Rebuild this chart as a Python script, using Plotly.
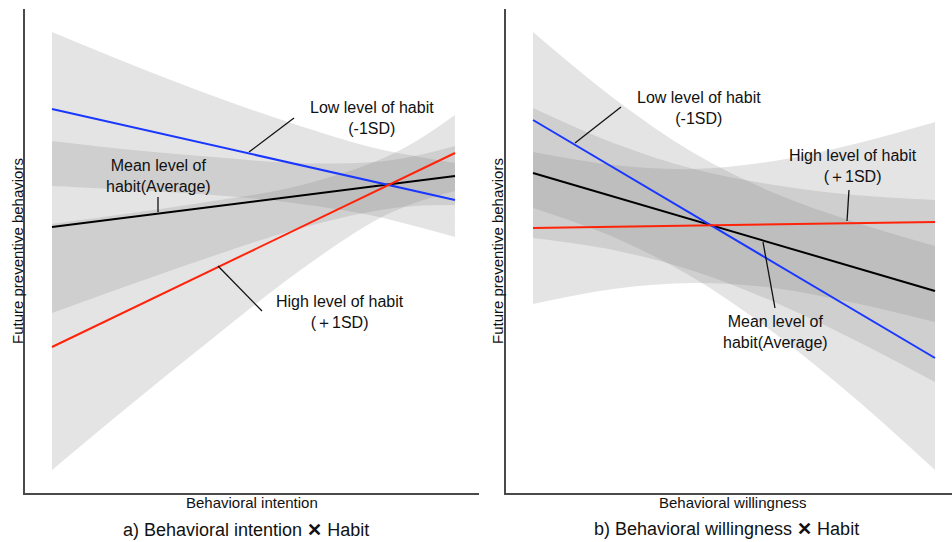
import plotly.graph_objects as go

W, H = 952, 542

# ---------------- data (panel a: Behavioral intention x Habit) ----------------
a_line_x = [0.0, 1.0]
a_low = [384, 293]      # Low level of habit (-1SD)
a_mean = [266, 317]     # Mean level of habit
a_high = [146, 340]     # High level of habit (+1SD)

a_band_x = [0.0, 0.2, 0.4, 0.6, 0.8, 0.9, 1.0]
a_low_hi = [461, 428, 397, 369, 345, 337, 330]
a_low_lo = [307, 303, 298, 290, 277, 267, 256]
a_mean_hi = [352, 343, 336, 330, 331, 337, 347]
a_mean_lo = [180, 209, 237, 263, 282, 287, 288]
a_high_hi = [269, 280, 292, 306, 331, 351, 378]
a_high_lo = [23, 90, 155, 218, 272, 290, 302]

# ---------------- data (panel b: Behavioral willingness x Habit) ----------------
b_line_x = [0.0, 1.0]
b_low = [373, 135]
b_mean = [320, 202]
b_high = [265, 271]

b_band_x = [0.0, 0.2, 0.4, 0.6, 0.8, 1.0]
b_low_hi = [461, 395, 340, 300, 271, 247]
b_low_lo = [285, 256, 215, 160, 95, 23]
b_mean_hi = [385, 350, 324, 308, 298, 293]
b_mean_lo = [255, 243, 222, 191, 153, 111]
b_high_hi = [341, 328, 324, 332, 349, 371]
b_high_lo = [189, 204, 210, 205, 190, 171]

BAND = "rgba(130,130,130,0.22)"
BLUE = "rgb(25,55,255)"
RED = "rgb(255,35,10)"
BLACK = "rgb(0,0,0)"
FONT = "Liberation Sans, Arial, sans-serif"

fig = go.Figure()


def add_band(xs, lo, hi, xa, ya):
    fig.add_trace(go.Scatter(x=xs, y=lo, mode="lines", line=dict(width=0, shape="spline"),
                             xaxis=xa, yaxis=ya, showlegend=False, hoverinfo="skip"))
    fig.add_trace(go.Scatter(x=xs, y=hi, mode="lines", line=dict(width=0, shape="spline"),
                             fill="tonexty", fillcolor=BAND,
                             xaxis=xa, yaxis=ya, showlegend=False, hoverinfo="skip"))


def add_line(xs, ys, color, xa, ya):
    fig.add_trace(go.Scatter(x=xs, y=ys, mode="lines", line=dict(color=color, width=2),
                             xaxis=xa, yaxis=ya, showlegend=False))


add_band(a_band_x, a_low_lo, a_low_hi, "x", "y")
add_band(a_band_x, a_mean_lo, a_mean_hi, "x", "y")
add_band(a_band_x, a_high_lo, a_high_hi, "x", "y")
add_line(a_line_x, a_mean, BLACK, "x", "y")
add_line(a_line_x, a_low, BLUE, "x", "y")
add_line(a_line_x, a_high, RED, "x", "y")

add_band(b_band_x, b_low_lo, b_low_hi, "x2", "y2")
add_band(b_band_x, b_mean_lo, b_mean_hi, "x2", "y2")
add_band(b_band_x, b_high_lo, b_high_hi, "x2", "y2")
add_line(b_line_x, b_mean, BLACK, "x2", "y2")
add_line(b_line_x, b_low, BLUE, "x2", "y2")
add_line(b_line_x, b_high, RED, "x2", "y2")


def px(x):
    return x / W


def py(y):
    return 1 - y / H


axis_common = dict(showline=True, linecolor="#4a4a4a", linewidth=1.5, showgrid=False,
                   zeroline=False, showticklabels=False, ticks="", fixedrange=True)

fig.update_layout(
    width=W, height=H,
    margin=dict(l=0, r=0, t=0, b=0),
    paper_bgcolor="white", plot_bgcolor="white",
    xaxis=dict(domain=[px(25), px(479)], range=[-0.067, 1.0596], anchor="y", **axis_common),
    yaxis=dict(domain=[py(493), py(9)], range=[0, 484], anchor="x", **axis_common),
    xaxis2=dict(domain=[px(506), 1.0], range=[-0.0672, 1.0423], anchor="y2", **axis_common),
    yaxis2=dict(domain=[py(493), py(9)], range=[0, 484], anchor="x2", **axis_common),
    showlegend=False,
)

ann = []


def text(x, y, s, size=16, angle=0):
    ann.append(dict(x=px(x), y=py(y), xref="paper", yref="paper", text=s, showarrow=False,
                    font=dict(family=FONT, size=size, color="#111"), textangle=angle,
                    xanchor="center", yanchor="middle", align="center"))


# axis titles
text(17, 251, "Future preventive behaviors", 15, -90)
text(497, 251, "Future preventive behaviors", 15, -90)
text(252, 502, "Behavioral intention", 15)
text(733, 502, "Behavioral willingness", 15)
# captions
text(246, 530, "a) Behavioral intention <b>✕</b> Habit", 18)
text(726, 529, "b) Behavioral willingness <b>✕</b> Habit", 18)

# line labels panel a
text(372, 118, "Low level of habit<br>(-1SD)")
text(158, 176, "Mean level of<br>habit(Average)")
text(340, 312, "High level of habit<br>(＋1SD)")
# line labels panel b
text(699, 108, "Low level of habit<br>(-1SD)")
text(853, 166, "High level of habit<br>(＋1SD)")
text(775, 332, "Mean level of<br>habit(Average)")

fig.update_layout(annotations=ann)

leaders = [
    (249, 152, 294, 118),
    (158, 212, 158, 197),
    (218, 266, 262, 311),
    (575, 143, 621, 107),
    (847, 221, 849, 190),
    (763, 242, 775, 308),
]
for x0, y0, x1, y1 in leaders:
    fig.add_shape(type="line", xref="paper", yref="paper",
                  x0=px(x0), y0=py(y0), x1=px(x1), y1=py(y1),
                  line=dict(color="#111", width=1.3))

fig.write_html("out.html", config={"displayModeBar": False})

# remove the browser's default page margin so the figure sits at the top-left corner
with open("out.html", "r", encoding="utf-8") as f:
    html = f.read()
html = html.replace("<head>", "<head><style>html,body{margin:0;padding:0;overflow:hidden;}</style>", 1)
with open("out.html", "w", encoding="utf-8") as f:
    f.write(html)
